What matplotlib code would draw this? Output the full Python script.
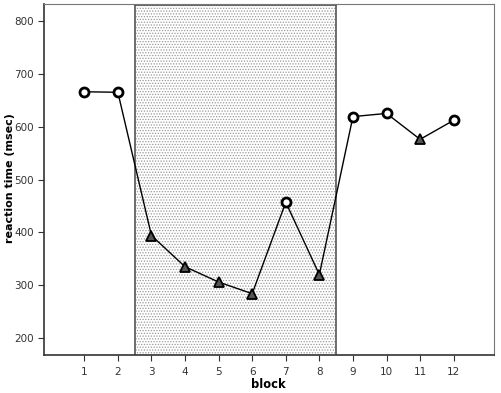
import matplotlib
matplotlib.use("Agg")
import matplotlib.pyplot as plt
from matplotlib.patches import Rectangle

blocks = [1, 2, 3, 4, 5, 6, 7, 8, 9, 10, 11, 12]
rt = [666, 665, 394, 335, 306, 284, 457, 320, 619, 625, 576, 612]
marker_kind = ['o', 'o', '^', '^', '^', '^', 'o', '^', 'o', 'o', '^', 'o']
shade_start, shade_end = 2.5, 8.5
yticks = [200, 300, 400, 500, 600, 700, 800]

plt.rcParams['hatch.linewidth'] = 0.6
fig = plt.figure(figsize=(5.01, 3.93), dpi=100)
ax = fig.add_axes([0.0878, 0.0967, 0.8982, 0.8931])
ax.set_xlim(-0.2, 13.2)
ax.set_ylim(168, 832)

ax.add_patch(Rectangle((shade_start, 168), shade_end - shade_start, 664,
                       facecolor='white', edgecolor='#999999', hatch='......',
                       linewidth=0, zorder=1))
ax.axvline(shade_start, color='#555555', lw=1.2, zorder=2)
ax.axvline(shade_end, color='#555555', lw=1.2, zorder=2)
ax.axhline(831, xmin=(shade_start + 0.2) / 13.4, xmax=(shade_end + 0.2) / 13.4,
           color='#555555', lw=1.2, zorder=2)

ax.plot(blocks, rt, color='black', lw=1.0, zorder=3)
for b, v, m in zip(blocks, rt, marker_kind):
    if m == 'o':
        ax.plot([b], [v], marker='o', ms=6.5, mfc='white', mec='black', mew=2.0,
                zorder=4, linestyle='none')
    else:
        ax.plot([b], [v], marker='^', ms=6.5, mfc='#555555', mec='black', mew=1.3,
                zorder=4, linestyle='none')

ax.set_xticks(blocks)
ax.set_xticklabels([str(b) for b in blocks])
ax.set_yticks(yticks)
ax.tick_params(axis='both', labelsize=7.5, colors='#333333', length=4, width=0.8)
ax.tick_params(axis='x', pad=5)
fig.text(268 / 501, 1 - 384 / 393, 'block', fontsize=8.3, fontweight='bold',
         ha='center', va='center')
fig.text(10 / 501, 1 - 178 / 393, 'reaction time (msec)', fontsize=8.0,
         fontweight='bold', ha='center', va='center', rotation=90)
for s in ['left', 'bottom']:
    ax.spines[s].set_color('#333333')
    ax.spines[s].set_linewidth(1.2)
for s in ['top', 'right']:
    ax.spines[s].set_color('#777777')
    ax.spines[s].set_linewidth(0.8)

fig.savefig('out.png', dpi=100)
